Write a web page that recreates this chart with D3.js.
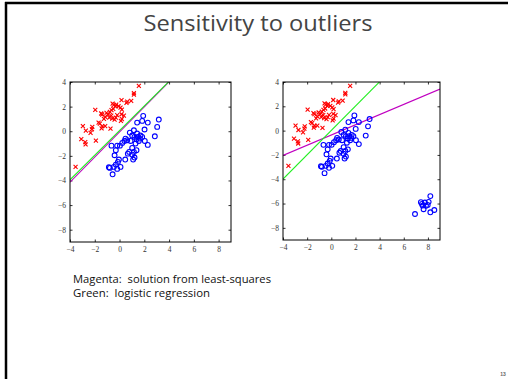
<!DOCTYPE html>
<html>
<head>
<meta charset="utf-8">
<script src="https://cdn.jsdelivr.net/npm/d3@7"></script>
<style>
  html, body { margin: 0; padding: 0; background: #fff; }
  svg { display: block; }
</style>
</head>
<body>
<svg id="slide" width="508" height="379"></svg>
<script>
// class 1 (red crosses)
const redX = [1.56, 1.16, 1.16, 0.62, 0.56, 0.94, 0.16, -0.56, -0.46, -0.27, -0.32, -0.08, 0.08, 0.19, -1.96,
  -0.51, -0.65, -0.78, -1.05, -0.94, -1.40, -1.48, -0.67, -0.83, -0.59, -1.16, -1.26, -0.19, -0.30, 0.16, 0.35,
  0.19, -0.40, 0.11, -1.69, -1.59, -1.40, -1.45, -1.16, -0.73, -2.96, -2.20, -2.23, -2.72, -2.34, -1.91, -3.09,
  -2.77, -2.74, -3.55];
const redY = [3.69, 3.10, 2.98, 2.40, 2.30, 2.47, 2.52, 2.25, 2.14, 2.17, 2.03, 2.03, 1.92, 1.76, 1.73,
  1.82, 1.71, 1.57, 1.49, 1.36, 1.36, 1.44, 1.27, 1.11, 1.03, 1.17, 1.00, 1.30, 1.11, 1.38, 1.27,
  0.98, 0.95, 0.84, 0.70, 0.62, 0.41, 0.24, 0.41, 0.22, 0.41, 0.35, 0.16, 0.05, -0.14, -0.76, -0.65,
  -0.89, -1.06, -2.90];

// class 2 (blue circles)
const blueX = [1.91, 1.83, 1.42, 2.28, 2.02, 3.17, 3.04, 2.85, 0.83, 1.16, 1.42, 1.02, 1.21, 1.48, 1.64, 1.37,
  1.56, 1.83, 1.69, 2.04, 2.28, 1.29, 0.89, 0.40, 0.62, 0.48, 0.22, 0.03, -0.65, -0.19, 1.02, 1.16, 1.37,
  0.78, 0.67, 1.02, 1.21, -0.30, -0.40, 1.10, 0.46, -0.05, -0.13, -0.30, -0.86, -0.78, -0.46, 0.08, -0.19, -0.56];
const blueY = [1.25, 0.84, 0.70, 0.70, 0.14, 0.95, 0.35, -0.41, -0.11, 0.08, -0.19, -0.35, -0.46, -0.46, -0.60, -0.65,
  -0.79, -0.46, -0.35, -0.79, -1.11, -1.00, -0.79, -0.79, -0.73, -0.60, -0.95, -1.17, -1.17, -1.17, -1.36, -1.68, -1.54,
  -1.68, -1.82, -1.90, -2.14, -1.54, -1.95, -2.30, -2.30, -2.30, -2.49, -2.71, -2.93, -2.98, -2.90, -2.90, -3.06, -3.50];

// outliers added to class 2 in the right panel
const outX = [7.42, 7.75, 8.06, 8.20, 7.56, 7.84, 7.64, 8.20, 8.53, 6.93, 7.98, 7.51];
const outY = [-5.89, -5.92, -5.86, -5.39, -6.17, -6.19, -6.47, -6.72, -6.53, -6.86, -6.11, -6.03];

// decision boundaries y = slope * x + intercept
const leftLines = [
  { color: "#c000c0", slope: 1.02, intercept: -0.06 },
  { color: "#22ee22", slope: 1.0, intercept: 0.05 }
];
const rightLines = [
  { color: "#c000c0", slope: 0.42, intercept: -0.36 },
  { color: "#22ee22", slope: 1.0, intercept: 0.02 }
];

const xTicks = [-4, -2, 0, 2, 4, 6, 8];
const yTicks = [-8, -6, -4, -2, 0, 2, 4];

const svg = d3.select("#slide");

// slide frame
svg.append("line").attr("x1", 6).attr("x2", 6).attr("y1", 2).attr("y2", 379)
  .attr("stroke", "#000").attr("stroke-width", 2.5);
svg.append("line").attr("x1", 5).attr("x2", 508).attr("y1", 3).attr("y2", 3)
  .attr("stroke", "#000").attr("stroke-width", 2.5);

svg.append("text")
  .text("Sensitivity to outliers")
  .attr("x", 258).attr("y", 31)
  .attr("text-anchor", "middle")
  .attr("font-family", "'Comic Sans MS', 'Open Sans', sans-serif")
  .attr("font-size", 21)
  .attr("textLength", 229).attr("lengthAdjust", "spacingAndGlyphs")
  .attr("fill", "#444");

function drawPanel(id, box, lines, withOutliers) {
  const xScale = d3.scaleLinear().domain([-4, 9]).range([0, box.w]);
  const yScale = d3.scaleLinear().domain([-9, 4]).range([box.h, 0]);

  const g = svg.append("g").attr("transform", `translate(${box.x}, ${box.y})`);

  const fmt = d => d < 0 ? "\u2212" + Math.abs(d) : d;
  const tickFont = "'Liberation Serif', 'Times New Roman', serif";

  const xAxis = d3.axisBottom(xScale).tickValues(xTicks).tickSize(-2.5).tickPadding(5).tickFormat(fmt);
  const xa = g.append("g").attr("transform", `translate(0, ${box.h})`).call(xAxis);
  const yAxis = d3.axisLeft(yScale).tickValues(yTicks).tickSize(-2.5).tickPadding(4).tickFormat(fmt);
  const ya = g.append("g").call(yAxis);
  // mirrored ticks on top and right
  const xTop = g.append("g").call(d3.axisTop(xScale).tickValues(xTicks).tickSize(-2.5).tickFormat(""));
  const yRight = g.append("g").attr("transform", `translate(${box.w}, 0)`)
    .call(d3.axisRight(yScale).tickValues(yTicks).tickSize(-2.5).tickFormat(""));

  [xa, ya, xTop, yRight].forEach(a => {
    a.select(".domain").remove();
    a.selectAll("line").attr("stroke", "#000").attr("stroke-width", 0.8);
    a.selectAll("text").attr("font-family", tickFont).attr("font-size", 7.5).attr("fill", "#333");
  });

  g.append("clipPath").attr("id", id)
    .append("rect").attr("width", box.w).attr("height", box.h);

  const lineGen = d3.line().x(d => xScale(d[0])).y(d => yScale(d[1]));
  const plot = g.append("g").attr("clip-path", `url(#${id})`);
  lines.forEach(l => {
    const pts = xScale.domain().map(x => [x, l.slope * x + l.intercept]);
    plot.append("path")
      .attr("d", lineGen(pts))
      .attr("fill", "none")
      .attr("stroke", l.color)
      .attr("stroke-width", 1.1);
  });

  // red crosses
  const s = 2;
  g.append("g").selectAll("path")
    .data(redX.map((x, i) => [x, redY[i]]))
    .enter().append("path")
    .attr("d", d => {
      const cx = xScale(d[0]), cy = yScale(d[1]);
      return `M${cx - s},${cy - s}L${cx + s},${cy + s}M${cx - s},${cy + s}L${cx + s},${cy - s}`;
    })
    .attr("stroke", "#ff0000").attr("stroke-width", 1.1).attr("fill", "none");

  // blue circles
  let blue = blueX.map((x, i) => [x, blueY[i]]);
  if (withOutliers) blue = blue.concat(outX.map((x, i) => [x, outY[i]]));
  g.append("g").selectAll("circle")
    .data(blue)
    .enter().append("circle")
    .attr("cx", d => xScale(d[0]))
    .attr("cy", d => yScale(d[1]))
    .attr("r", 2.4)
    .attr("fill", "none")
    .attr("stroke", "#0000ff")
    .attr("stroke-width", 1.1);

  g.append("rect")
    .attr("width", box.w).attr("height", box.h)
    .attr("fill", "none").attr("stroke", "#000").attr("stroke-width", 1);
}

drawPanel("clipL", { x: 70, y: 82, w: 161, h: 160 }, leftLines, false);
drawPanel("clipR", { x: 283, y: 82, w: 157, h: 158 }, rightLines, true);

const noteFont = "'Comic Sans MS', 'Open Sans', sans-serif";
svg.append("text").text("Magenta:  solution from least-squares")
  .attr("x", 73).attr("y", 283)
  .attr("font-family", noteFont).attr("font-size", 10)
  .attr("textLength", 198).attr("lengthAdjust", "spacingAndGlyphs")
  .attr("fill", "#111").style("white-space", "pre");
svg.append("text").text("Green:  logistic regression")
  .attr("x", 73).attr("y", 296.5)
  .attr("font-family", noteFont).attr("font-size", 10)
  .attr("textLength", 137).attr("lengthAdjust", "spacingAndGlyphs")
  .attr("fill", "#111").style("white-space", "pre");

svg.append("text").text("13")
  .attr("x", 503).attr("y", 376)
  .attr("text-anchor", "middle")
  .attr("font-family", "'Liberation Sans', sans-serif")
  .attr("font-size", 5).attr("font-weight", "bold")
  .attr("fill", "#666");
</script>
</body>
</html>
